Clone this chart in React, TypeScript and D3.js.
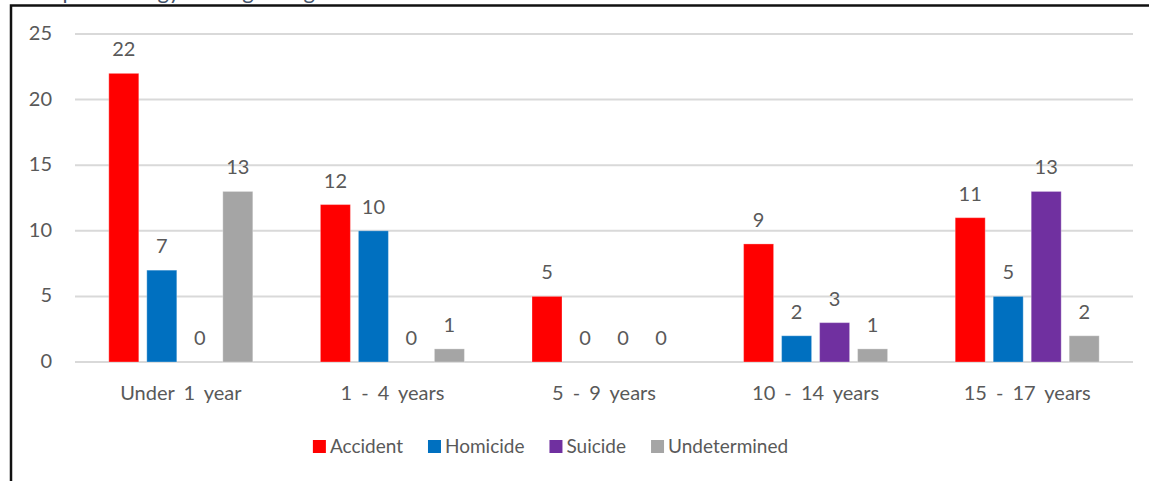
import React, { useEffect, useRef } from "react";
import * as d3 from "d3";

const categories = ["Under 1 year", "1 - 4 years", "5 - 9 years", "10 - 14 years", "15 - 17 years"];
const seriesNames = ["Accident", "Homicide", "Suicide", "Undetermined"];
const accident = [22, 12, 5, 9, 11];
const homicide = [7, 10, 0, 2, 5];
const suicide = [0, 0, 0, 3, 13];
const undetermined = [13, 1, 0, 1, 2];
const seriesColors = ["#FF0000", "#0070C0", "#7030A0", "#A5A5A5"];
const yTicks = [0, 5, 10, 15, 20, 25];
const titleText = "Epidemiology Among All Ages";

const W = 1149;
const H = 481;
const FONT = "Lato, 'Open Sans', sans-serif";
const TXT = "#595959";

export default function App() {
  const ref = useRef<SVGSVGElement | null>(null);

  useEffect(() => {
    const svg = d3.select(ref.current);
    svg.selectAll("*").remove();
    const values = [accident, homicide, suicide, undetermined];

    const left = 75, right = 1133, top = 34, bottom = 362;
    const x0 = d3.scaleBand<string>().domain(categories).range([left, right]).padding(0);
    const x1 = d3.scaleBand<string>().domain(seriesNames).range([-72, 72]).paddingInner(8 / 38).paddingOuter(0);
    const y = d3.scaleLinear().domain([0, 25]).range([bottom, top]);

    svg.append("rect").attr("width", W).attr("height", H).attr("fill", "#fff");

    // title (cut off at top, as in the reference)
    svg.append("text").attr("x", 50).attr("y", -1).attr("font-family", FONT).attr("font-size", 22)
      .attr("fill", "#44546A").text(titleText);

    // border
    svg.append("path").attr("d", `M11,${H} L11,5.5 L${W},5.5`).attr("fill", "none").attr("stroke", "#111").attr("stroke-width", 2.5);

    // gridlines
    svg.append("g").selectAll("line").data(yTicks).join("line")
      .attr("x1", left).attr("x2", right).attr("y1", (d) => y(d)).attr("y2", (d) => y(d))
      .attr("stroke", "#D9D9D9").attr("stroke-width", 2);

    svg.append("g").selectAll("text").data(yTicks).join("text")
      .attr("x", 52).attr("y", (d) => y(d) + 1).attr("text-anchor", "end").attr("dominant-baseline", "middle")
      .attr("font-family", FONT).attr("font-size", 20).attr("fill", TXT).text((d) => String(d));

    // bars
    const groups = svg.append("g").selectAll("g").data(categories).join("g")
      .attr("transform", (c) => `translate(${x0(c)! + x0.bandwidth() / 2},0)`);
    groups.each(function (c, ci) {
      const g = d3.select(this);
      seriesNames.forEach((s, si) => {
        const v = values[si][ci];
        const bx = x1(s)!;
        if (v > 0) {
          g.append("rect").attr("x", bx).attr("width", x1.bandwidth()).attr("y", y(v)).attr("height", y(0) - y(v))
            .attr("fill", seriesColors[si]).attr("stroke", "#fff").attr("stroke-opacity", 0.3).attr("stroke-width", 1);
        }
        g.append("text").attr("x", bx + x1.bandwidth() / 2).attr("y", y(v) - 17).attr("text-anchor", "middle")
          .attr("font-family", FONT).attr("font-size", 20).attr("fill", TXT).text(String(v));
      });
    });

    // category labels
    svg.append("g").selectAll("text").data(categories).join("text")
      .attr("x", (c) => x0(c)! + x0.bandwidth() / 2).attr("y", 399.5).attr("text-anchor", "middle")
      .attr("font-family", FONT).attr("font-size", 20).attr("word-spacing", 4).attr("fill", TXT).text((c) => c);

    // legend
    const leg = svg.append("g");
    const items = leg.selectAll("g").data(seriesNames).join("g");
    items.append("rect").attr("width", 13).attr("height", 13).attr("y", 440).attr("fill", (_, i) => seriesColors[i]);
    const texts = items.append("text").attr("x", 17).attr("y", 453).attr("font-family", FONT).attr("font-size", 19)
      .attr("fill", TXT).text((d) => d);
    const widths = texts.nodes().map((n) => (n as SVGTextElement).getComputedTextLength());
    const gap = 25;
    const total = widths.reduce((a, w) => a + 17 + w, 0) + gap * (widths.length - 1);
    let cx = 550.5 - total / 2;
    items.attr("transform", (_, i) => {
      const t = `translate(${cx},0)`;
      cx += 17 + widths[i] + gap;
      return t;
    });
  }, []);

  return (
    <svg ref={ref} width={W} height={H} style={{ position: "absolute", left: 0, top: 0, display: "block" }} />
  );
}
